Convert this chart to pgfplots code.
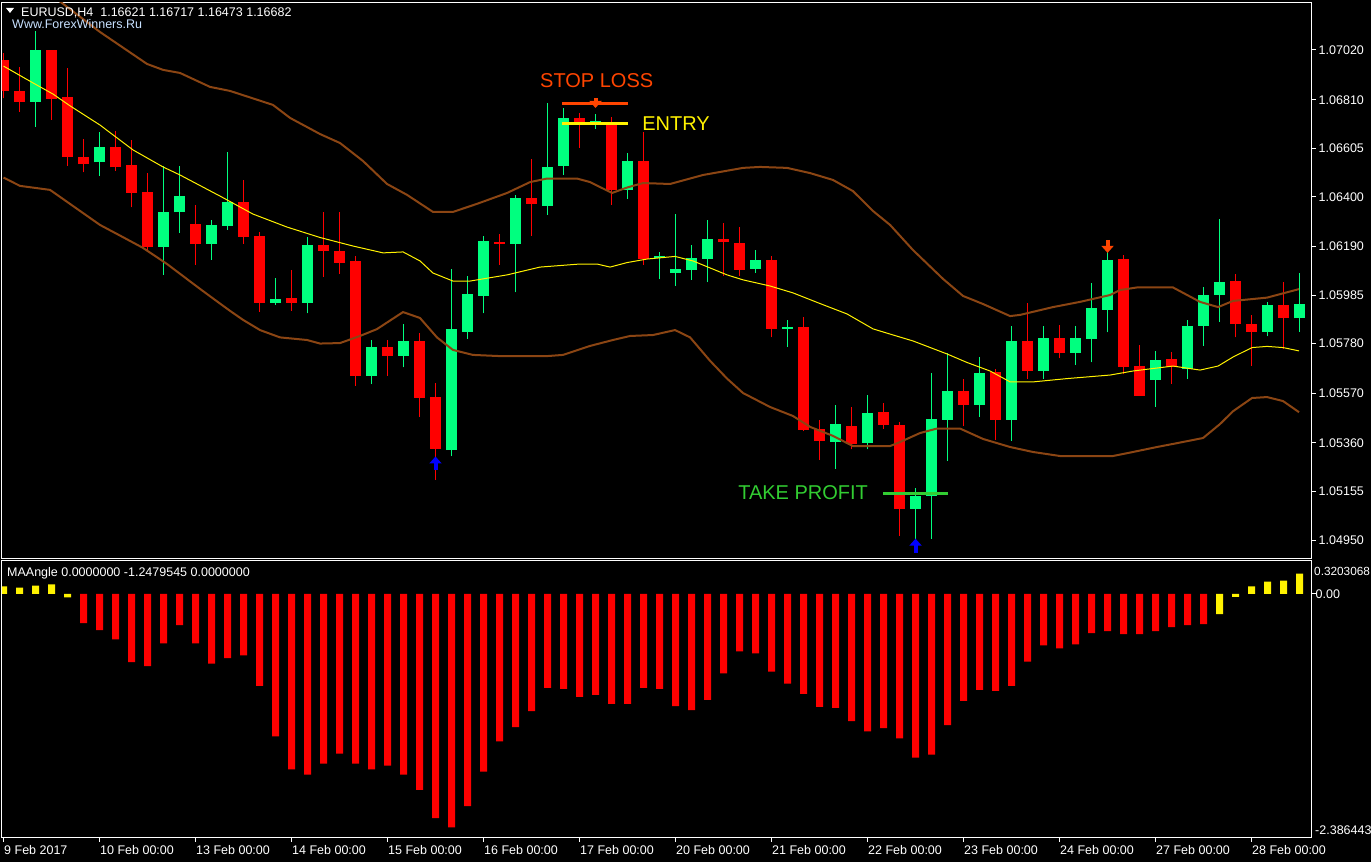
\documentclass[border=0pt]{standalone}
\usepackage{pgfplots}
\pgfplotsset{compat=1.18}
\usepackage{pgfplotstable}
\usepackage{fontspec}
\setmainfont{Liberation Sans}
\usetikzlibrary{arrows.meta}
\newcommand\sm{\fontsize{12.5}{14}\selectfont}
\newcommand\bigt{\fontsize{20}{24}\selectfont}
\definecolor{bull}{RGB}{0,255,127}
\definecolor{bear}{RGB}{255,0,0}
\definecolor{band}{RGB}{139,69,19}
\definecolor{slc}{RGB}{255,69,0}
\definecolor{tpc}{RGB}{50,205,50}
\definecolor{wtxt}{RGB}{200,225,255}
\definecolor{arrb}{RGB}{0,0,255}

\pgfplotstableread{
x o h l c
2 1.06801 1.07100 1.06696 1.07020
6 1.06545 1.06673 1.06489 1.06610
10 1.06189 1.06530 1.06071 1.06335
11 1.06334 1.06530 1.06249 1.06403
13 1.06201 1.06302 1.06134 1.06281
14 1.06278 1.06587 1.06261 1.06377
17 1.05953 1.06058 1.05944 1.05969
19 1.05953 1.06229 1.05907 1.06196
23 1.05644 1.05795 1.05609 1.05765
25 1.05727 1.05863 1.05679 1.05790
28 1.05330 1.06095 1.05305 1.05842
29 1.05830 1.06065 1.05801 1.05990
30 1.05981 1.06236 1.05907 1.06213
32 1.06201 1.06409 1.05996 1.06395
34 1.06361 1.06797 1.06325 1.06525
35 1.06530 1.06776 1.06492 1.06733
37 1.06706 1.06751 1.06688 1.06718
39 1.06429 1.06586 1.06392 1.06551
41 1.06142 1.06166 1.06052 1.06148
42 1.06080 1.06328 1.06024 1.06095
43 1.06092 1.06196 1.06050 1.06142
44 1.06139 1.06302 1.06039 1.06222
47 1.06097 1.06175 1.06080 1.06133
49 1.05843 1.05879 1.05766 1.05849
52 1.05365 1.05520 1.05252 1.05441
54 1.05362 1.05563 1.05333 1.05487
57 1.05083 1.05170 1.04953 1.05137
58 1.05137 1.05656 1.04956 1.05462
59 1.05459 1.05741 1.05285 1.05578
61 1.05522 1.05723 1.05471 1.05655
63 1.05459 1.05854 1.05370 1.05790
65 1.05665 1.05854 1.05632 1.05804
67 1.05742 1.05854 1.05691 1.05804
68 1.05801 1.06035 1.05700 1.05931
69 1.05923 1.06166 1.05827 1.06133
72 1.05628 1.05748 1.05514 1.05711
74 1.05673 1.05879 1.05632 1.05854
75 1.05855 1.06017 1.05771 1.05985
76 1.05987 1.06308 1.05872 1.06039
79 1.05830 1.05955 1.05810 1.05944
81 1.05886 1.06080 1.05830 1.05947
}\bulltab

\pgfplotstableread{
x o h l c
0 1.06978 1.07008 1.06816 1.06847
1 1.06847 1.06948 1.06759 1.06801
3 1.07020 1.07020 1.06726 1.06815
4 1.06821 1.06945 1.06530 1.06569
5 1.06567 1.06646 1.06503 1.06540
7 1.06610 1.06678 1.06510 1.06524
8 1.06534 1.06640 1.06355 1.06418
9 1.06420 1.06500 1.06168 1.06189
12 1.06285 1.06365 1.06113 1.06201
15 1.06377 1.06471 1.06202 1.06231
16 1.06234 1.06251 1.05914 1.05953
18 1.05973 1.06091 1.05919 1.05953
20 1.06196 1.06335 1.06062 1.06171
21 1.06171 1.06335 1.06074 1.06122
22 1.06128 1.06150 1.05602 1.05644
24 1.05765 1.05795 1.05644 1.05727
26 1.05790 1.05825 1.05471 1.05552
27 1.05554 1.05614 1.05205 1.05335
31 1.06210 1.06242 1.06113 1.06201
33 1.06395 1.06560 1.06236 1.06370
36 1.06733 1.06754 1.06608 1.06709
38 1.06711 1.06736 1.06367 1.06429
40 1.06551 1.06673 1.06113 1.06137
45 1.06222 1.06290 1.06067 1.06207
46 1.06205 1.06272 1.06065 1.06092
48 1.06133 1.06150 1.05806 1.05843
50 1.05849 1.05892 1.05410 1.05416
51 1.05419 1.05457 1.05290 1.05368
53 1.05431 1.05511 1.05333 1.05356
55 1.05490 1.05530 1.05421 1.05437
56 1.05436 1.05448 1.04968 1.05083
60 1.05578 1.05631 1.05431 1.05522
62 1.05658 1.05673 1.05373 1.05459
64 1.05790 1.05952 1.05632 1.05665
66 1.05804 1.05858 1.05717 1.05742
70 1.06137 1.06154 1.05650 1.05680
71 1.05685 1.05775 1.05560 1.05560
73 1.05715 1.05744 1.05611 1.05682
77 1.06044 1.06074 1.05806 1.05864
78 1.05863 1.05902 1.05686 1.05830
80 1.05944 1.06038 1.05756 1.05886
}\beartab

\pgfplotstableread{
x v
5 -0.286
6 -0.356
7 -0.445
8 -0.668
9 -0.708
10 -0.484
11 -0.306
12 -0.484
13 -0.682
14 -0.629
15 -0.603
16 -0.899
17 -1.393
18 -1.716
19 -1.768
20 -1.660
21 -1.561
22 -1.660
23 -1.716
24 -1.679
25 -1.768
26 -1.917
27 -2.193
28 -2.282
29 -2.075
30 -1.739
31 -1.442
32 -1.304
33 -1.146
34 -0.919
35 -0.929
36 -1.008
37 -0.988
38 -1.077
39 -1.077
40 -0.919
41 -0.929
42 -1.097
43 -1.136
44 -1.037
45 -0.777
46 -0.563
47 -0.583
48 -0.761
49 -0.879
50 -0.978
51 -1.106
52 -1.116
53 -1.245
54 -1.344
55 -1.314
56 -1.413
57 -1.600
58 -1.571
59 -1.284
60 -1.047
61 -0.939
62 -0.948
63 -0.899
64 -0.662
65 -0.504
66 -0.533
67 -0.494
68 -0.385
69 -0.366
70 -0.395
71 -0.395
72 -0.366
73 -0.326
74 -0.306
75 -0.296
}\mared

\pgfplotstableread{
x v
0 0.072
1 0.059
2 0.079
3 0.092
4 -0.036
76 -0.198
77 -0.030
78 0.072
79 0.119
80 0.128
81 0.198
}\mayel

\pgfplotstableread{
x y u v
37 1.06817 0 -0.00042
69 1.06218 0 -0.00055
}\arrdown

\pgfplotstableread{
x y u v
27 1.05246 0 0.00057
57 1.04895 0 0.00061
}\arrup

\pgfplotsset{candle/.style={only marks, mark=*, mark size=0pt,
  mark options={draw=none, fill=none}, forget plot}}

\begin{document}
\begin{tikzpicture}
\useasboundingbox (0,0) rectangle (1371pt,862pt);
\fill[black] (0,0) rectangle (1371pt,862pt);

% ---------------- price panel ----------------
\begin{axis}[
  at={(2pt,303pt)}, anchor=south west,
  scale only axis, width=1309.5pt, height=556.5pt,
  xmin=-0.094, xmax=81.75, ymin=1.048700, ymax=1.072206,
  axis line style={white, line width=1pt},
  xtick=\empty,
  ytick={1.04950,1.05155,1.05360,1.05570,1.05780,1.05985,1.06190,1.06400,1.06605,1.06810,1.07020},
  yticklabels={1.04950,1.05155,1.05360,1.05570,1.05780,1.05985,1.06190,1.06400,1.06605,1.06810,1.07020},
  ytick pos=right, yticklabel pos=right,
  tick align=outside, major tick length=4pt,
  tick style={white, line width=1pt},
  yticklabel style={font=\sm, text=white, anchor=west, inner sep=0pt, xshift=3pt},
  clip mode=individual,
]
% wicks
\addplot[bull, candle,
  error bars/.cd, y dir=plus, y explicit, error mark=none,
  error bar style={line width=1pt, bull}]
  table[x=x, y=l, y error plus expr=\thisrow{h}-\thisrow{l}] {\bulltab};
\addplot[bear, candle,
  error bars/.cd, y dir=plus, y explicit, error mark=none,
  error bar style={line width=1pt, bear}]
  table[x=x, y=l, y error plus expr=\thisrow{h}-\thisrow{l}] {\beartab};
% bodies
\addplot[bull, candle,
  error bars/.cd, y dir=plus, y explicit, error mark=none,
  error bar style={line width=11pt, bull}]
  table[x=x, y=o, y error plus expr=\thisrow{c}-\thisrow{o}] {\bulltab};
\addplot[bear, candle,
  error bars/.cd, y dir=plus, y explicit, error mark=none,
  error bar style={line width=11pt, bear}]
  table[x=x, y=c, y error plus expr=\thisrow{o}-\thisrow{c}] {\beartab};

% moving average
\addplot[yellow, line width=1pt, mark=none] coordinates {
(0,1.06952) (1.84,1.06881) (3.09,1.06834) (4.16,1.06784) (6.03,1.06703) (8.09,1.06598) (9.97,1.06526) (11.03,1.06492) (13.53,1.06403) (15.59,1.06327) (17.72,1.06272) (19.78,1.06228) (21.84,1.06192) (23.72,1.06163) (24.97,1.06167) (26.03,1.06129) (26.84,1.06078) (28.09,1.06044) (29.16,1.06044) (31.47,1.06070) (33.53,1.06103) (36.03,1.06116) (37.09,1.06116) (37.91,1.06103) (38.97,1.06122) (40.22,1.06137) (41.97,1.06148) (43.09,1.06129) (45.22,1.06070) (46.22,1.06049) (47.91,1.06023) (49.34,1.05994) (51.03,1.05949) (52.72,1.05905) (54.34,1.05842) (55.41,1.05820) (56.84,1.05791) (58.97,1.05736) (60.22,1.05700) (61.66,1.05664) (62.91,1.05618) (64.34,1.05618) (66.47,1.05632) (69.16,1.05647) (70.59,1.05664) (73.09,1.05685) (74.78,1.05668) (75.91,1.05685) (76.84,1.05723) (78.03,1.05763) (78.97,1.05768) (79.97,1.05763) (80.97,1.05749)
};
% upper band
\addplot[band, line width=2pt, mark=none] coordinates {
(0,1.07400) (3.41,1.07231) (6.03,1.07096) (8.97,1.06961) (9.97,1.06936) (11.03,1.06923) (12.91,1.06864) (14.16,1.06847) (16.84,1.06788) (17.91,1.06733) (19.78,1.06665) (21.03,1.06627) (22.47,1.06551) (23.97,1.06454) (25.22,1.06408) (26.84,1.06336) (28.09,1.06336) (29.59,1.06370) (31.47,1.06416) (32.91,1.06462) (33.97,1.06477) (35.84,1.06477) (36.66,1.06462) (38.03,1.06416) (38.97,1.06439) (39.97,1.06458) (41.66,1.06454) (43.72,1.06492) (46.22,1.06522) (47.28,1.06526) (48.97,1.06522) (50.41,1.06500) (51.84,1.06471) (53.09,1.06424) (54.34,1.06340) (55.41,1.06281) (56.84,1.06175) (58.72,1.06053) (59.97,1.05981) (61.22,1.05947) (62.91,1.05896) (63.53,1.05901) (65.59,1.05934) (67.28,1.05956) (69.16,1.05985) (69.78,1.06006) (70.84,1.06017) (73.09,1.06017) (74.78,1.05956) (75.91,1.05934) (76.84,1.05960) (78.97,1.05974) (80.97,1.06010)
};
% lower band
\addplot[band, line width=2pt, mark=none] coordinates {
(0,1.06481) (1.03,1.06446) (2.91,1.06429) (6.03,1.06281) (7.09,1.06243) (8.72,1.06184) (10.22,1.06116) (12.28,1.06011) (13.53,1.05949) (14.16,1.05918) (14.97,1.05880) (16.03,1.05837) (17.28,1.05806) (18.97,1.05795) (19.78,1.05780) (21.03,1.05782) (22.28,1.05812) (23.34,1.05841) (24.97,1.05913) (26.03,1.05888) (27.09,1.05806) (28.09,1.05753) (29.34,1.05732) (31.03,1.05727) (33.97,1.05727) (34.97,1.05732) (36.66,1.05770) (38.09,1.05795) (39.16,1.05812) (40.59,1.05816) (41.97,1.05837) (42.91,1.05806) (44.16,1.05707) (45.22,1.05632) (46.22,1.05571) (47.91,1.05512) (49.34,1.05474) (50.41,1.05428) (51.84,1.05390) (53.09,1.05347) (55.41,1.05347) (56.03,1.05364) (57.28,1.05402) (58.34,1.05421) (59.78,1.05421) (61.22,1.05377) (62.91,1.05343) (64.34,1.05322) (66.03,1.05305) (69.34,1.05305) (70.59,1.05322) (72.09,1.05343) (73.09,1.05356) (74.97,1.05381) (76.03,1.05440) (76.84,1.05494) (78.03,1.05550) (78.97,1.05554) (79.97,1.05537) (80.97,1.05490)
};

% trade levels
\addplot[slc, line width=3pt, mark=none] coordinates {(34.91,1.06794) (39.03,1.06794)};
\addplot[yellow, line width=3pt, mark=none] coordinates {(34.91,1.06711) (39.03,1.06711)};
\addplot[tpc, line width=3pt, mark=none] coordinates {(54.97,1.05145) (59.03,1.05145)};

% signal arrows
\addplot[slc, line width=4pt, mark=none, quiver={u=\thisrow{u}, v=\thisrow{v}}, -{Triangle[length=7pt,width=12pt]}]
  table[x=x, y=y] {\arrdown};
\addplot[arrb, line width=4pt, mark=none, quiver={u=\thisrow{u}, v=\thisrow{v}}, -{Triangle[length=7pt,width=12pt]}]
  table[x=x, y=y] {\arrup};

\node[anchor=west, inner sep=0pt, font=\bigt, text=slc] at (axis cs:33.53,1.06889) {STOP LOSS};
\node[anchor=west, inner sep=0pt, font=\bigt, text=yellow] at (axis cs:39.91,1.06707) {ENTRY};
\node[anchor=west, inner sep=0pt, font=\bigt, text=tpc] at (axis cs:45.91,1.05151) {TAKE PROFIT};
\end{axis}

% ---------------- MAAngle panel ----------------
\begin{axis}[
  at={(2pt,24pt)}, anchor=south west,
  scale only axis, width=1309.5pt, height=277pt,
  xmin=-0.094, xmax=81.75, ymin=-2.386443, ymax=0.3203068,
  axis line style={white, line width=1pt},
  xtick={0,6,...,78},
  xticklabels={9 Feb 2017,10 Feb 00:00,13 Feb 00:00,14 Feb 00:00,15 Feb 00:00,16 Feb 00:00,17 Feb 00:00,20 Feb 00:00,21 Feb 00:00,22 Feb 00:00,23 Feb 00:00,24 Feb 00:00,27 Feb 00:00,28 Feb 00:00},
  xtick pos=left,
  ytick={0}, yticklabels={0.00},
  ytick pos=right, yticklabel pos=right,
  tick align=outside, major tick length=4pt,
  tick style={white, line width=1pt},
  xticklabel style={font=\sm, text=white, anchor=north west, inner sep=0pt, xshift=0.5pt, yshift=-3pt},
  yticklabel style={font=\sm, text=white, anchor=west, inner sep=0pt, xshift=0pt},
  clip mode=individual,
]
\addplot[ybar, bar width=7pt, bar shift=0pt, fill=red, draw=none] table[x=x, y=v] {\mared};
\addplot[ybar, bar width=7pt, bar shift=0pt, fill=yellow, draw=none] table[x=x, y=v] {\mayel};
\end{axis}

% ---------------- texts ----------------
\fill[white] (6pt,854pt) -- (14pt,854pt) -- (10pt,849pt) -- cycle;
\node[anchor=base west, inner sep=0pt, font=\sm, text=white] at (21pt,845pt) {EURUSD,H4~~1.16621 1.16717 1.16473 1.16682};
\node[anchor=base west, inner sep=0pt, font=\sm, text=wtxt] at (12pt,833pt) {Www.ForexWinners.Ru};
\node[anchor=base west, inner sep=0pt, font=\sm, text=white] at (7pt,285.5pt) {MAAngle 0.0000000 -1.2479545 0.0000000};
\node[anchor=west, inner sep=0pt, font=\fontsize{11.8}{13}\selectfont, text=white] at (1314pt,291pt) {0.3203068};
\node[anchor=west, inner sep=0pt, font=\sm, text=white] at (1315pt,31.5pt) {-2.386443};
\end{tikzpicture}
\end{document}
